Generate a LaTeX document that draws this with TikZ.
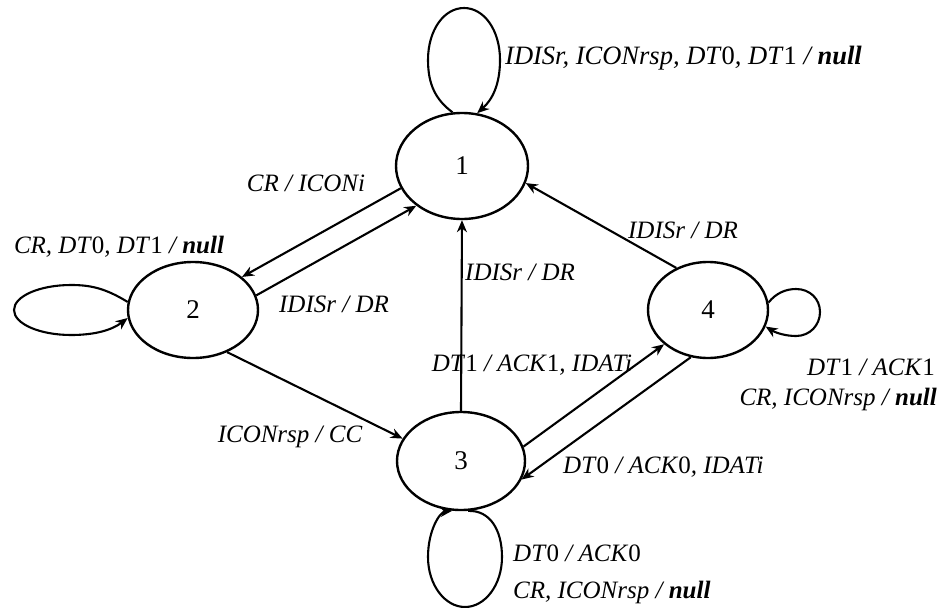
\documentclass[tikz,border=0pt]{standalone}
\usepackage{fontspec}
\setmainfont{Liberation Serif}
\usetikzlibrary{shapes.geometric,arrows.meta}
% digits in the labels are set upright, "null" in bold
\newcommand\up[1]{\textup{#1}}
\newcommand\nul{\textbf{null}}
\begin{document}
\begin{tikzpicture}[x=1pt,y=-1pt,
  state/.style={ellipse,draw,line width=2.4pt,inner sep=0pt,
    font=\fontsize{27}{27}\selectfont},
  trans/.style={line width=2.1pt,-{Stealth[length=12pt,width=10pt]}},
  lbl/.style={font=\fontsize{25}{25}\selectfont\itshape,inner sep=0pt}]
\useasboundingbox (0,0) rectangle (943,608);

% states
\node[state,minimum width=132pt,minimum height=106pt] (n1) at (462,166) {1};
\node[state,minimum width=130pt,minimum height=96pt]  (n2) at (193,310) {2};
\node[state,minimum width=128pt,minimum height=98pt]  (n3) at (461,461) {3};
\node[state,minimum width=120pt,minimum height=96pt]  (n4) at (708,310) {4};

% transitions between states
\draw[trans] (n1.200.4) -- (n2.34);
\draw[trans] (n2.13) -- (n1.221.4);
\draw[trans] (n2.309) -- (n3.159.4);
\draw[trans] (n3.90) -- (n1.270);
\draw[trans] (n4.127.5) -- (n1.345.3);
\draw[trans] (n3.13.8) -- (n4.218.5);
\draw[trans] (n4.250.2) -- (n3.343.9);

% self loops
\draw[trans] (n1.100) .. controls (436,100) and (428,85) .. (428,60)
  .. controls (428,30) and (444,8) .. (464,8)
  .. controls (484,8) and (500,30) .. (500,60)
  .. controls (500,85) and (492,100) .. (n1.74);
\draw[trans] (n2.173) .. controls (105,288) and (90,285) .. (71,285)
  .. controls (40,285) and (14,296) .. (14,310)
  .. controls (14,324) and (40,335) .. (71,335)
  .. controls (95,335) and (112,330) .. (n2.187);
\draw[trans] (n4.7) .. controls (776,293) and (786,289) .. (796,289)
  .. controls (810,289) and (820,299) .. (820,312)
  .. controls (820,325) and (810,336) .. (796,336)
  .. controls (786,336) and (776,333) .. (n4.344);
\draw[trans] (n3.278) .. controls (490,510) and (502,530) .. (502,557)
  .. controls (502,585) and (485,607) .. (465,607)
  .. controls (445,607) and (428,585) .. (428,557)
  .. controls (428,530) and (440,512) .. (n3.260);

% transition labels
\node[lbl,anchor=west,font=\fontsize{26.5}{26.5}\selectfont\itshape] (t1) at (505,58)
  {IDISr, ICONrsp, DT\up0, DT\up1 / \nul};
\node[lbl] (t2) at (306,183) {CR / ICONi};
\node[lbl] (t3) at (334,304) {IDISr / DR};
\node[lbl] (t4) at (119,247) {CR, DT\up0, DT\up1 / \nul};
\node[lbl] (t5) at (290,437) {ICONrsp / CC};
\node[lbl,anchor=west] (t6) at (465,272) {IDISr / DR};
\node[lbl] (t7) at (683,230) {IDISr / DR};
\node[lbl] (t8) at (532,365) {DT\up1 / ACK\up1, IDATi};
\node[lbl,anchor=west] (t9) at (563,467) {DT\up0 / ACK\up0, IDATi};
\node[lbl,anchor=east] (t10) at (935,367) {DT\up1 / ACK\up1};
\node[lbl,anchor=east] (t11) at (937,399) {CR, ICONrsp / \nul};
\node[lbl,anchor=west] (t12) at (513,553) {DT\up0 / ACK\up0};
\node[lbl,anchor=west] (t13) at (513,592) {CR, ICONrsp / \nul};
\end{tikzpicture}
\end{document}
